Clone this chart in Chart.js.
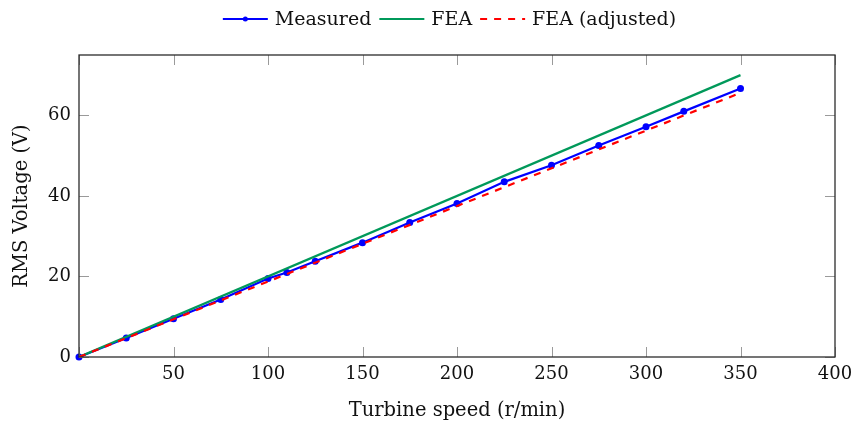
<!DOCTYPE html>
<html>
<head>
<meta charset="utf-8">
<script src="https://cdn.jsdelivr.net/npm/chart.js@4.4.0/dist/chart.umd.min.js"></script>
<style>
  html, body { margin: 0; padding: 0; background: #fff; }
</style>
</head>
<body>
<canvas id="chart" width="853" height="431"></canvas>
<script>
// turbine speed (r/min) vs RMS voltage (V)
const speeds = [0, 25, 50, 75, 100, 110, 125, 150, 175, 200, 225, 250, 275, 300, 320, 350];
const measured = [0, 4.7, 9.5, 14.3, 19.5, 21.0, 23.8, 28.4, 33.4, 38.1, 43.5, 47.6, 52.5, 57.2, 61.0, 66.7];
const feaSpeeds = [0, 350];
const fea = [0, 70];
const feaAdjusted = [0, 65.6];

const xTicks = [0, 50, 100, 150, 200, 250, 300, 350, 400];
const yTicks = [0, 20, 40, 60];

const serif = '"DejaVu Serif", serif';
const blue = '#0000ff';
const green = '#00995a';
const red = '#ff0000';

const toPoints = (xs, ys) => xs.map((v, i) => ({ x: v, y: ys[i] }));

const legendItems = [
  { label: 'Measured', color: blue, dash: [], marker: true },
  { label: 'FEA', color: green, dash: [], marker: false },
  { label: 'FEA (adjusted)', color: red, dash: [7, 7], marker: false }
];

// box frame, inward tick marks, axis titles and the legend row
const frame = {
  id: 'frame',
  afterDraw(chart) {
    const { ctx, chartArea: a, scales: { x, y } } = chart;
    ctx.save();

    ctx.strokeStyle = '#9a9a9a';
    ctx.lineWidth = 1;
    ctx.beginPath();
    xTicks.forEach(v => {
      const px = Math.round(x.getPixelForValue(v)) + 0.5;
      ctx.moveTo(px, a.bottom); ctx.lineTo(px, a.bottom - 10);
      ctx.moveTo(px, a.top); ctx.lineTo(px, a.top + 10);
    });
    yTicks.forEach(v => {
      const py = Math.round(y.getPixelForValue(v)) + 0.5;
      ctx.moveTo(a.left, py); ctx.lineTo(a.left + 10, py);
      ctx.moveTo(a.right, py); ctx.lineTo(a.right - 10, py);
    });
    ctx.stroke();

    ctx.strokeStyle = '#2b2b2b';
    ctx.lineWidth = 1.3;
    ctx.strokeRect(a.left, a.top, a.right - a.left, a.bottom - a.top);

    ctx.fillStyle = '#111';
    ctx.font = '19.5px ' + serif;
    ctx.textAlign = 'center';
    ctx.textBaseline = 'middle';
    ctx.fillText('Turbine speed (r/min)', (a.left + a.right) / 2, 411);
    ctx.save();
    ctx.translate(22, (a.top + a.bottom) / 2);
    ctx.rotate(-Math.PI / 2);
    ctx.fillText('RMS Voltage (V)', 0, 0);
    ctx.restore();

    // legend
    ctx.font = '19px ' + serif;
    const lineW = 45, gapIn = 7, gapOut = 8;
    const widths = legendItems.map(it => ctx.measureText(it.label).width);
    let total = widths.reduce((s, w) => s + lineW + gapIn + w, 0) + gapOut * (legendItems.length - 1);
    let cx = 449.5 - total / 2;
    const ly = 19;
    ctx.textAlign = 'left';
    legendItems.forEach((it, i) => {
      ctx.strokeStyle = it.color;
      ctx.lineWidth = 2;
      ctx.setLineDash(it.dash);
      ctx.beginPath();
      ctx.moveTo(cx, ly); ctx.lineTo(cx + lineW, ly);
      ctx.stroke();
      ctx.setLineDash([]);
      if (it.marker) {
        ctx.fillStyle = it.color;
        ctx.beginPath();
        ctx.arc(cx + lineW / 2, ly, 2.5, 0, Math.PI * 2);
        ctx.fill();
      }
      cx += lineW + gapIn;
      ctx.fillStyle = '#111';
      ctx.fillText(it.label, cx, ly + 1);
      cx += widths[i] + gapOut;
    });

    ctx.restore();
  }
};

new Chart(document.getElementById('chart'), {
  type: 'line',
  data: {
    datasets: [
      {
        label: 'Measured',
        data: toPoints(speeds, measured),
        borderColor: blue,
        backgroundColor: blue,
        borderWidth: 2.2,
        pointRadius: 3.5,
        pointBorderWidth: 0,
        tension: 0,
        clip: false,
        order: 3
      },
      {
        label: 'FEA',
        data: toPoints(feaSpeeds, fea),
        borderColor: green,
        borderWidth: 2.2,
        pointRadius: 0,
        tension: 0,
        order: 2
      },
      {
        label: 'FEA (adjusted)',
        data: toPoints(feaSpeeds, feaAdjusted),
        borderColor: red,
        borderWidth: 2.2,
        borderDash: [7, 7],
        pointRadius: 0,
        tension: 0,
        order: 1
      }
    ]
  },
  options: {
    responsive: false,
    devicePixelRatio: 1,
    animation: false,
    layout: { padding: { top: 55, right: 18, left: 0, bottom: 0 } },
    plugins: { legend: { display: false }, tooltip: { enabled: false } },
    scales: {
      x: {
        type: 'linear',
        min: 0,
        max: 400,
        afterBuildTicks: s => { s.ticks = xTicks.map(v => ({ value: v })); },
        afterFit: s => { s.height = 74; s.paddingLeft = 0; s.paddingRight = 0; },
        grid: { display: false, drawTicks: false },
        border: { display: false },
        ticks: {
          callback: v => (v === 0 ? '' : v),
          font: { family: serif, size: 18 },
          color: '#111',
          padding: 7,
          maxRotation: 0,
          autoSkip: false
        }
      },
      y: {
        type: 'linear',
        min: 0,
        max: 75,
        afterBuildTicks: s => { s.ticks = yTicks.map(v => ({ value: v })); },
        afterFit: s => { s.width = 79; s.paddingTop = 0; s.paddingBottom = 0; },
        grid: { display: false, drawTicks: false },
        border: { display: false },
        ticks: {
          font: { family: serif, size: 18 },
          color: '#111',
          padding: 8
        }
      }
    }
  },
  plugins: [frame]
});
</script>
</body>
</html>
